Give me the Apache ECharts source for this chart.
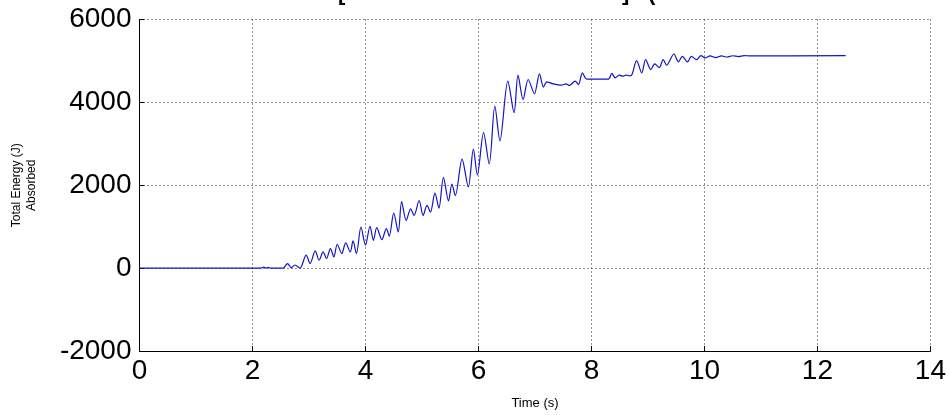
<!DOCTYPE html>
<html>
<head>
<meta charset="utf-8">
<script src="https://cdn.jsdelivr.net/npm/echarts@6/dist/echarts.min.js"></script>
<style>html,body{margin:0;padding:0;background:#fff;}#c{width:949px;height:415px;}</style>
</head>
<body>
<div id="c"></div>
<script>
// Time (s)
const timeS = [0, 2.15, 2.2, 2.24, 2.28, 2.32, 2.54, 2.62, 2.69, 2.75, 2.84, 2.95, 3.02, 3.11, 3.18, 3.25, 3.31, 3.38, 3.44, 3.50, 3.58, 3.65, 3.73, 3.78, 3.84, 3.92, 4.00, 4.08, 4.14, 4.20, 4.29, 4.37, 4.42, 4.50, 4.58, 4.64, 4.72, 4.80, 4.86, 4.95, 5.02, 5.09, 5.15, 5.23, 5.30, 5.38, 5.47, 5.53, 5.59, 5.71, 5.82, 5.91, 5.98, 6.09, 6.19, 6.29, 6.38, 6.52, 6.63, 6.70, 6.79, 6.88, 6.99, 7.08, 7.15, 7.21, 7.32, 7.47, 7.55, 7.61, 7.71, 7.77, 7.84, 7.92, 8.30, 8.36, 8.42, 8.49, 8.55, 8.61, 8.68, 8.72, 8.80, 8.89, 8.96, 9.05, 9.12, 9.20, 9.27, 9.33, 9.46, 9.54, 9.61, 9.70, 9.77, 9.86, 9.94, 10.01, 10.1, 10.2, 10.3, 10.4, 10.5, 10.6, 10.7, 10.81, 12.5];
// Total energy absorbed (J)
const energyJ = [0, 0, 25, 0, 20, 0, 0, 110, 10, 75, 0, 312, 112, 416, 192, 392, 232, 472, 272, 576, 352, 608, 392, 656, 352, 992, 552, 1010, 672, 976, 688, 952, 768, 1328, 872, 1608, 1152, 1432, 1272, 1632, 1272, 1512, 1352, 1810, 1450, 2192, 1620, 2030, 1752, 2632, 1960, 2872, 2250, 3270, 2512, 3912, 3072, 4512, 3752, 4656, 4072, 4552, 4208, 4688, 4370, 4496, 4448, 4416, 4448, 4408, 4512, 4432, 4712, 4560, 4560, 4700, 4592, 4656, 4632, 4656, 4640, 4680, 5008, 4712, 5032, 4792, 4928, 4840, 5032, 4896, 5168, 4976, 5112, 4976, 5112, 5032, 5128, 5072, 5120, 5080, 5120, 5095, 5125, 5105, 5130, 5120, 5130];
const xTicks = [0, 2, 4, 6, 8, 10, 12, 14];
const yTicks = [-2000, 0, 2000, 4000, 6000];
const xName = 'Time (s)';
const yName = 'Total Energy (J)\nAbsorbed';

const FONT = "'Liberation Sans', Arial, Helvetica, sans-serif";
const chart = echarts.init(document.getElementById('c'), null, {renderer: 'canvas'});
const grid = {left: 139.5, right: 18.5, top: 19.5, bottom: 63.3};
const dotted = {show: true, lineStyle: {color: '#222', width: 1, type: [1, 3]}};
chart.setOption({
  animation: false,
  backgroundColor: '#ffffff',
  grid: grid,
  graphic: [
    {type: 'text', left: 338, top: -17, style: {text: '[', font: "bold 22px " + FONT, fill: '#000'}},
    {type: 'text', left: 622, top: -17, style: {text: ']', font: "bold 22px " + FONT, fill: '#000'}},
    {type: 'text', left: 648, top: -17, style: {text: '(', font: "bold 22px " + FONT, fill: '#000'}}
  ],
  xAxis: {
    type: 'value', min: xTicks[0], max: xTicks[xTicks.length - 1], interval: 2,
    name: xName, nameLocation: 'middle', nameGap: 46,
    nameTextStyle: {fontSize: 13, color: '#000', fontFamily: FONT},
    axisLine: {show: true, onZero: false, lineStyle: {color: '#000', width: 1}},
    axisTick: {show: true, inside: true, length: 5, lineStyle: {color: '#000'}},
    axisLabel: {fontSize: 28, color: '#000', fontFamily: FONT, margin: 6, formatter: v => String(v)},
    splitLine: dotted
  },
  yAxis: {
    type: 'value', min: yTicks[0], max: yTicks[yTicks.length - 1], interval: 2000,
    name: yName, nameLocation: 'middle', nameRotate: 90, nameGap: 100,
    nameTextStyle: {fontSize: 12, color: '#000', fontFamily: FONT, lineHeight: 15, align: 'center'},
    axisLine: {show: true, onZero: false, lineStyle: {color: '#000', width: 1}},
    axisTick: {show: true, inside: true, length: 5, lineStyle: {color: '#000'}},
    axisLabel: {fontSize: 28, color: '#000', fontFamily: FONT, margin: 8, formatter: v => String(v)},
    splitLine: dotted
  },
  series: [{
    type: 'line',
    data: timeS.map((t, i) => [t, energyJ[i]]),
    showSymbol: false,
    smooth: 0.3,
    lineStyle: {color: '#1414c8', width: 1.2},
    z: 5
  }]
});
</script>
</body>
</html>
